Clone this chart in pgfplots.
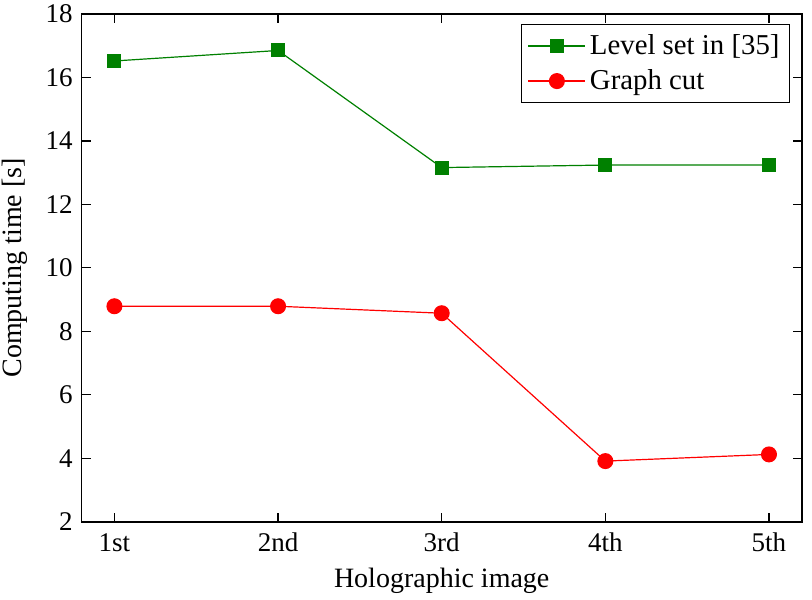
\documentclass[border=0pt]{standalone}
\usepackage{fontspec}
\setmainfont{Liberation Serif}
\usepackage{pgfplots}
\pgfplotsset{compat=1.18}

\definecolor{lsgreen}{rgb}{0,0.5,0}

\begin{document}
\begin{tikzpicture}
% page frame, 2 px per pt
\useasboundingbox (-40.85pt,-38.65pt) rectangle (365.15pt,260.85pt);
\begin{axis}[
    at={(0,0)}, anchor=south west,
    width=360pt, height=253.85pt,
    scale only axis,
    xmin=0.8, xmax=5.2,
    ymin=2, ymax=18,
    xtick={1,2,3,4,5},
    xticklabels={1st,2nd,3rd,4th,5th},
    ytick={2,4,...,18},
    /pgf/number format/assume math mode=true,
    tick label style={font=\fontsize{13.5}{15}\selectfont},
    xticklabel style={anchor=base, yshift=-15pt},
    yticklabel style={anchor=east, xshift=-1pt},
    label style={font=\fontsize{14}{16}\selectfont},
    xlabel={Holographic image},
    ylabel={Computing time [s]},
    xlabel style={at={(axis description cs:0.5,0)}, anchor=base, yshift=-33pt},
    ylabel style={at={(axis description cs:-0.093,0.5)}, anchor=center},
    axis line style={line width=0.8pt},
    major tick length=4.5pt,
    tick style={line width=0.6pt, black},
    legend style={at={(1,1)}, anchor=north east, xshift=-5.8pt, yshift=-5pt,
        font=\fontsize{14.4}{16}\selectfont, draw=black, line width=0.6pt,
        inner xsep=3pt, inner ysep=3pt, row sep=2pt},
    legend cell align=left,
    legend image code/.code={\draw[mark repeat=2,mark phase=2,#1] plot coordinates {(0cm,0cm)(0.5cm,0cm)(1cm,0cm)};},
]
\addplot[color=lsgreen, line width=0.6pt, mark=square*, mark size=3.2pt, mark options={solid}] coordinates {
    (1,16.52) (2,16.85) (3,13.16) (4,13.24) (5,13.24)
};
\addplot[color=red, line width=0.6pt, mark=*, mark size=3.7pt, mark options={solid}] coordinates {
    (1,8.79) (2,8.79) (3,8.57) (4,3.91) (5,4.12)
};
\legend{Level set in [35], Graph cut}
\end{axis}
\end{tikzpicture}
\end{document}
